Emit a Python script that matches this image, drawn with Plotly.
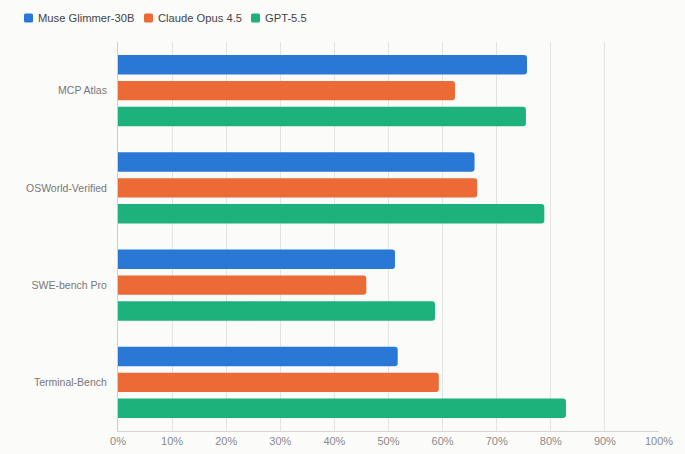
import plotly.graph_objects as go

benchmarks = ["MCP Atlas", "OSWorld-Verified", "SWE-bench Pro", "Terminal-Bench"]
muse = [75.6, 65.9, 51.2, 51.7]
claude = [62.3, 66.4, 45.9, 59.3]
gpt = [75.4, 78.8, 58.6, 82.8]

series = [
    ("Muse Glimmer-30B", muse, "#2a78d6"),
    ("Claude Opus 4.5", claude, "#ec6a36"),
    ("GPT-5.5", gpt, "#1db27b"),
]

BG = "#fbfbfa"

# page has an 8px body margin, so the figure is a bit smaller than the window
W, H = 677, 446
ML, MR, MT, MB = 110, 26, 34, 23
OFF = 8
PW, PH = W - ML - MR, H - MT - MB


def px_x(p):
    return (p - OFF - ML) / PW


def px_y(p):
    return (H - MB + OFF - p) / PH


fig = go.Figure()
for name, vals, col in series:
    fig.add_trace(go.Bar(
        y=benchmarks, x=vals, name=name, orientation="h",
        marker=dict(color=col, line=dict(width=0)),
        hovertemplate="%{y}: %{x}%<extra>" + name + "</extra>",
    ))

# legend drawn by hand so the swatch sits close to its label
legend_left = [24, 144, 251]
for (name, vals, col), lx in zip(series, legend_left):
    x0, x1 = px_x(lx), px_x(lx + 9)
    y0, y1 = px_y(22.5), px_y(13.5)
    rx, ry = 1.5 / PW, 1.5 / PH
    path = (f"M{x0+rx},{y0} L{x1-rx},{y0} Q{x1},{y0} {x1},{y0+ry} "
            f"L{x1},{y1-ry} Q{x1},{y1} {x1-rx},{y1} L{x0+rx},{y1} "
            f"Q{x0},{y1} {x0},{y1-ry} L{x0},{y0+ry} Q{x0},{y0} {x0+rx},{y0} Z")
    fig.add_shape(type="path", path=path, xref="paper", yref="paper",
                  fillcolor=col, line=dict(width=0), layer="above")
    fig.add_annotation(x=px_x(lx + 12), y=px_y(18), xref="paper", yref="paper",
                       text=name, showarrow=False, xanchor="left", yanchor="middle",
                       font=dict(size=11.2, color="#444"))

fig.update_layout(
    width=W, height=H,
    margin=dict(l=ML, r=MR, t=MT, b=MB, autoexpand=False),
    paper_bgcolor=BG,
    plot_bgcolor=BG,
    font=dict(family="Liberation Sans, Arial, sans-serif", size=11, color="#777"),
    barmode="group",
    bargap=0.2,
    bargroupgap=0.25,
    barcornerradius=3,
    showlegend=False,
)
fig.update_xaxes(
    range=[0, 100], dtick=10, ticksuffix="%",
    showgrid=True, gridcolor="#e3e3e3", gridwidth=1,
    zeroline=False, showline=True, linecolor="#d6d6d6",
    tickfont=dict(size=11, color="#8a8a8a"), ticks="",
    fixedrange=True,
)
fig.update_yaxes(
    autorange="reversed", showgrid=False, zeroline=False,
    showline=True, linecolor="#cfcfcf", ticks="",
    tickfont=dict(size=10.5, color="#777"), ticklabelstandoff=8,
    fixedrange=True,
)

fig.write_html("out.html",
               post_script=f"document.body.style.background='{BG}';")
